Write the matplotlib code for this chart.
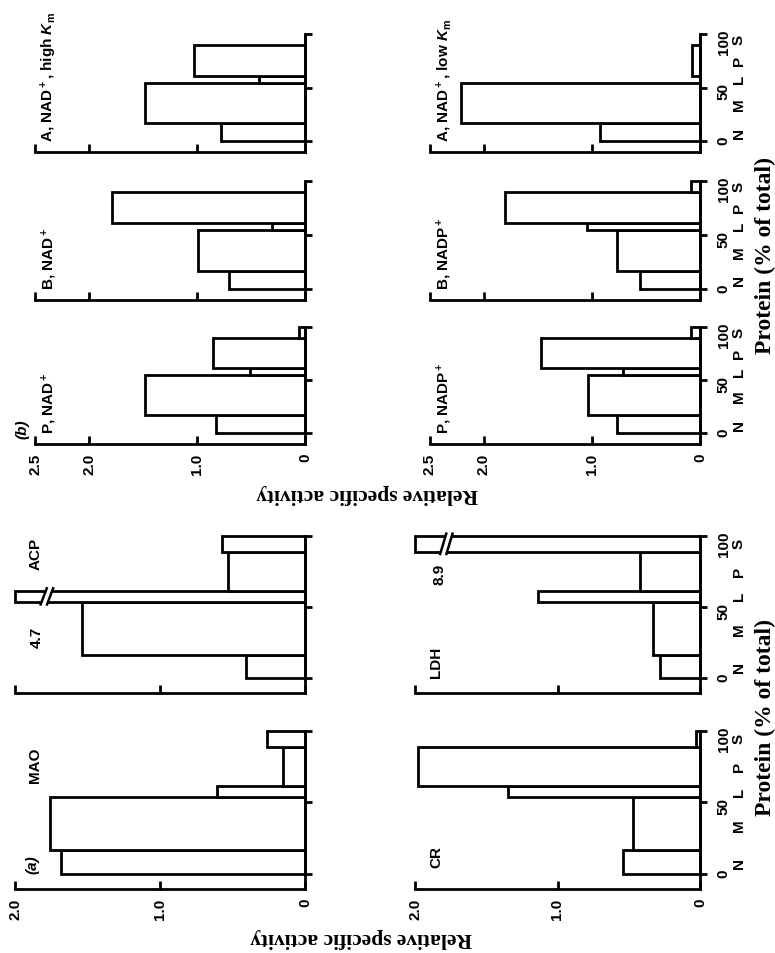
import matplotlib
matplotlib.use('Agg')
import matplotlib.pyplot as plt
from matplotlib.ticker import FixedLocator, FixedFormatter

plt.rcParams['font.family'] = ['Liberation Sans', 'DejaVu Sans']
plt.rcParams['font.weight'] = 'bold'
plt.rcParams['mathtext.fontset'] = 'custom'
plt.rcParams['mathtext.rm'] = 'Liberation Sans:bold'
plt.rcParams['mathtext.it'] = 'Liberation Sans:bold:italic'

W, H = 775, 954

fractions = ['N', 'M', 'L', 'P', 'S']
# cumulative protein (% of total) at the fraction boundaries
edges_a = [0, 16.5, 53.5, 61.5, 89, 100]
edges_b = [0, 17, 54.5, 61, 90, 100]

# relative specific activity, fractions N M L P S
# (a)
mao = [1.68, 1.76, 0.61, 0.15, 0.26]
acp = [0.41, 1.54, 4.7, 0.53, 0.57]
cr = [0.54, 0.47, 1.35, 1.98, 0.03]
ldh = [0.28, 0.33, 1.14, 0.42, 8.9]
# (b)
p_nad = [0.82, 1.48, 0.51, 0.85, 0.06]
b_nad = [0.70, 0.99, 0.31, 1.79, 0.0]
a_nad_high = [0.78, 1.48, 0.43, 1.03, 0.0]
p_nadp = [0.77, 1.04, 0.71, 1.47, 0.08]
b_nadp = [0.56, 0.77, 1.05, 1.81, 0.08]
a_nad_low = [0.93, 2.21, 0.0, 0.07, 0.0]

ticks_a = [2.0, 1.0, 0]
ticks_b = [2.5, 2.0, 1.0, 0]

fig = plt.figure(figsize=(W / 100, H / 100), dpi=100)


def make_ax(x0, y0, x1, y1):
    # box in image pixels (top-left origin)
    return fig.add_axes([x0 / W, 1 - y1 / H, (x1 - x0) / W, (y1 - y0) / H])


def draw_break(ax, y0, y1, c, vmax):
    s = 0.012 * vmax
    d = 0.011 * vmax
    e = 2.5
    xs = [c + d + s, c + d - s, c - d - s, c - d + s]
    ys = [y0 - e, y1 + e, y1 + e, y0 - e]
    ax.fill(xs, ys, color='white', zorder=3, clip_on=False)
    for off in (d, -d):
        ax.plot([c + off + s, c + off - s], [y0 - e, y1 + e], color='k',
                lw=1.8, zorder=4, clip_on=False, solid_capstyle='butt')


def panel(box, vals, edges, vmax, vticks, ylo, show_x, show_y):
    ax = make_ax(*box)
    lefts = edges[:-1]
    widths = [b - a for a, b in zip(edges[:-1], edges[1:])]
    shown = [min(v, vmax) for v in vals]
    ax.barh(lefts, shown, height=widths, align='edge', facecolor='white',
            edgecolor='black', linewidth=2.0, clip_on=False, zorder=2)
    for v, a, w in zip(vals, lefts, widths):
        if v > vmax:
            draw_break(ax, a, a + w, 0.89 * vmax, vmax)
    ax.set_xlim(vmax, 0)
    ax.set_ylim(ylo, 100)
    for sp in ('top', 'left'):
        ax.spines[sp].set_visible(False)
    for sp in ('bottom', 'right'):
        ax.spines[sp].set_linewidth(2.0)
        ax.spines[sp].set_zorder(5)
    ax.xaxis.set_major_locator(FixedLocator(vticks))
    ax.xaxis.set_major_formatter(FixedFormatter(['%g' % t if t == 0 else '%.1f' % t for t in vticks]))
    ax.yaxis.tick_right()
    ax.yaxis.set_major_locator(FixedLocator([0, 50, 100]))
    mids = [(a + b) / 2 for a, b in zip(edges[:-1], edges[1:])]
    ax.yaxis.set_minor_locator(FixedLocator(mids))
    ax.yaxis.set_minor_formatter(FixedFormatter(fractions))
    ax.tick_params(axis='x', direction='in', length=6, width=2, pad=6,
                   labelsize=11, labelrotation=90, labelbottom=show_x)
    ax.tick_params(axis='y', which='major', direction='out', length=5, width=2,
                   pad=7, labelsize=11, labelrotation=90, left=False,
                   labelleft=False, right=True, labelright=show_y)
    ax.tick_params(axis='y', which='minor', length=0, pad=23, labelsize=11,
                   labelrotation=90, left=False, labelleft=False, right=True,
                   labelright=show_y)
    return ax


def title(ax, x, y, s, **kw):
    ax.text(x, y, s, rotation=90, ha='center', va='bottom', fontsize=11, **kw)


# (b) panels, top half
ax = panel((35, 35, 305, 153), a_nad_high, edges_b, 2.5, ticks_b, -10, False, False)
title(ax, 2.37, 0, r'A, NAD$^+$, high $K_\mathrm{m}$')
ax = panel((35, 182, 305, 301), b_nad, edges_b, 2.5, ticks_b, -10, False, False)
title(ax, 2.37, 0, r'B, NAD$^+$')
ax = panel((35, 328, 305, 445), p_nad, edges_b, 2.5, ticks_b, -10, True, False)
title(ax, 2.37, 0, r'P, NAD$^+$')
title(ax, 2.62, -4, '(b)', style='italic')

ax = panel((430, 35, 700, 153), a_nad_low, edges_b, 2.5, ticks_b, -10, False, True)
title(ax, 2.37, 0, r'A, NAD$^+$, low $K_\mathrm{m}$')
ax = panel((430, 182, 700, 301), b_nadp, edges_b, 2.5, ticks_b, -10, False, True)
title(ax, 2.37, 0, r'B, NADP$^+$')
ax = panel((430, 328, 700, 445), p_nadp, edges_b, 2.5, ticks_b, -10, True, True)
title(ax, 2.37, 0, r'P, NADP$^+$')

# (a) panels, bottom half
ax = panel((15, 537, 305, 694), acp, edges_a, 2.0, ticks_a, -10.5, False, False)
title(ax, 1.86, 77, 'ACP')
title(ax, 1.85, 22, '%.1f' % max(acp))
ax = panel((15, 732, 305, 890), mao, edges_a, 2.0, ticks_a, -10.5, True, False)
title(ax, 1.86, 64, 'MAO')
title(ax, 1.88, 1, '(a)', style='italic')

ax = panel((415, 537, 700, 694), ldh, edges_a, 2.0, ticks_a, -10.5, False, True)
title(ax, 1.85, 0.5, 'LDH')
title(ax, 1.83, 66, '%.1f' % max(ldh))
ax = panel((415, 732, 700, 890), cr, edges_a, 2.0, ticks_a, -10.5, True, True)
title(ax, 1.85, 5, 'CR')

serif = dict(family='Liberation Serif', fontweight='bold', ha='center', va='center')
fig.text(367 / W, 1 - 494 / H, 'Relative specific activity', rotation=180, fontsize=15.5, **serif)
fig.text(361 / W, 1 - 938 / H, 'Relative specific activity', rotation=180, fontsize=15.5, **serif)
fig.text(765 / W, 1 - 256 / H, 'Protein (% of total)', rotation=90, fontsize=17, **serif)
fig.text(765 / W, 1 - 717 / H, 'Protein (% of total)', rotation=90, fontsize=17, **serif)

fig.savefig('out.png', dpi=100)
